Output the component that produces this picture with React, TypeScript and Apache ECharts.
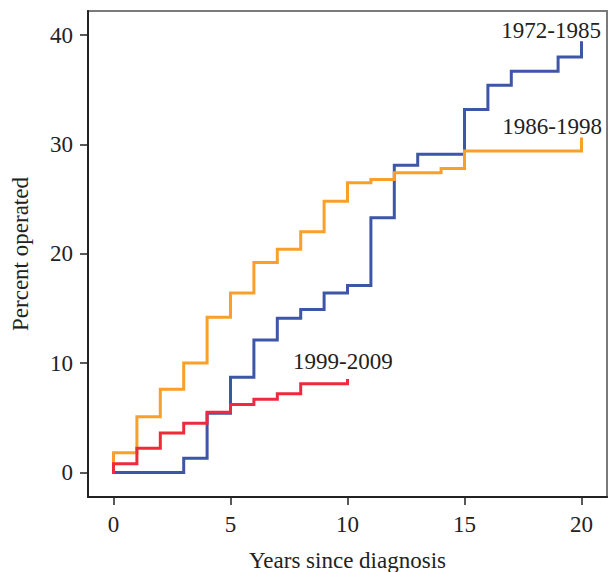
import React, { useEffect, useRef } from "react";
import * as echarts from "echarts";

const xTicks = [0, 5, 10, 15, 20];
const yTicks = [0, 10, 20, 30, 40];

const seriesNames = ["1972-1985", "1986-1998", "1999-2009"];

// [years, percent operated] – step changes (step: "end")
const data1972: [number, number][] = [
  [0, 0], [3, 1.3], [4, 5.4], [5, 8.7], [6, 12.1], [7, 14.1], [8, 14.9], [9, 16.4],
  [10, 17.1], [11, 23.3], [12, 28.1], [13, 29.1], [15, 33.2], [16, 35.4], [17, 36.7],
  [19, 38.0], [20, 39.3],
];
const data1986: [number, number][] = [
  [0, 0], [0, 1.8], [1, 5.1], [2, 7.6], [3, 10.0], [4, 14.2], [5, 16.4], [6, 19.2],
  [7, 20.4], [8, 22.0], [9, 24.8], [10, 26.5], [11, 26.8], [12, 27.4], [14, 27.8],
  [15, 29.4], [20, 30.5],
];
const data1999: [number, number][] = [
  [0, 0], [0, 0.8], [1, 2.2], [2, 3.6], [3, 4.5], [4, 5.5], [5, 6.2], [6, 6.7],
  [7, 7.2], [8, 8.1], [10, 8.4],
];

const colors = ["#3d56a8", "#f9a02a", "#ee2b3b"];

export default function App() {
  const ref = useRef<HTMLDivElement>(null);
  useEffect(() => {
    if (!ref.current) return;
    const chart = echarts.init(ref.current, null, { renderer: "svg" });
    const font = "'Liberation Serif', 'Times New Roman', serif";
    const fs = 23;
    const mk = (name: string, data: [number, number][], color: string, z: number) => ({
      type: "line",
      name,
      data,
      step: "end",
      showSymbol: false,
      symbol: "none",
      z,
      lineStyle: { color, width: 3, cap: "square", join: "miter" },
    });
    const label = (text: string, x: number, y: number, align: string) => ({
      type: "text",
      x,
      y,
      style: {
        text,
        fontSize: fs,
        fontFamily: font,
        fill: "#222",
        align,
        verticalAlign: "middle",
      },
    });
    chart.setOption({
      animation: false,
      backgroundColor: "#ffffff",
      textStyle: { fontFamily: font },
      grid: {
        left: 88,
        top: 11,
        right: 4,
        bottom: 75,
        show: true,
        borderColor: "#7a7a7a",
        borderWidth: 2,
        containLabel: false,
        outerBoundsMode: "none",
      },
      xAxis: {
        type: "value",
        min: -1.09,
        max: 21.09,
        splitLine: { show: false },
        axisLine: { show: true, onZero: false, lineStyle: { color: "#222", width: 2 } },
        axisTick: {
          show: true,
          length: 8,
          inside: false,
          customValues: xTicks,
          lineStyle: { color: "#222", width: 1.5 },
        },
        axisLabel: {
          customValues: xTicks,
          margin: 16,
          fontSize: fs,
          color: "#222",
          fontFamily: font,
        },
        name: "Years since diagnosis",
        nameLocation: "middle",
        nameGap: 52,
        nameTextStyle: { fontSize: fs, color: "#222", fontFamily: font },
      },
      yAxis: {
        type: "value",
        min: -2.25,
        max: 42.2,
        splitLine: { show: false },
        axisLine: { show: true, onZero: false, lineStyle: { color: "#222", width: 2 } },
        axisTick: {
          show: true,
          length: 8,
          inside: false,
          customValues: yTicks,
          lineStyle: { color: "#222", width: 1.5 },
        },
        axisLabel: {
          customValues: yTicks,
          margin: 15,
          fontSize: fs,
          color: "#222",
          fontFamily: font,
        },
        name: "Percent operated",
        nameLocation: "middle",
        nameGap: 56,
        nameTextStyle: { fontSize: fs, color: "#222", fontFamily: font },
      },
      series: [
        mk(seriesNames[0], data1972, colors[0], 2),
        mk(seriesNames[1], data1986, colors[1], 3),
        mk(seriesNames[2], data1999, colors[2], 4),
      ],
      graphic: [
        label(seriesNames[0], 601, 30, "right"),
        label(seriesNames[1], 602, 126, "right"),
        label(seriesNames[2], 293, 361, "left"),
      ],
    });
    return () => chart.dispose();
  }, []);
  return (
    <div
      ref={ref}
      style={{ position: "absolute", left: 0, top: 0, width: 611, height: 572 }}
    />
  );
}
